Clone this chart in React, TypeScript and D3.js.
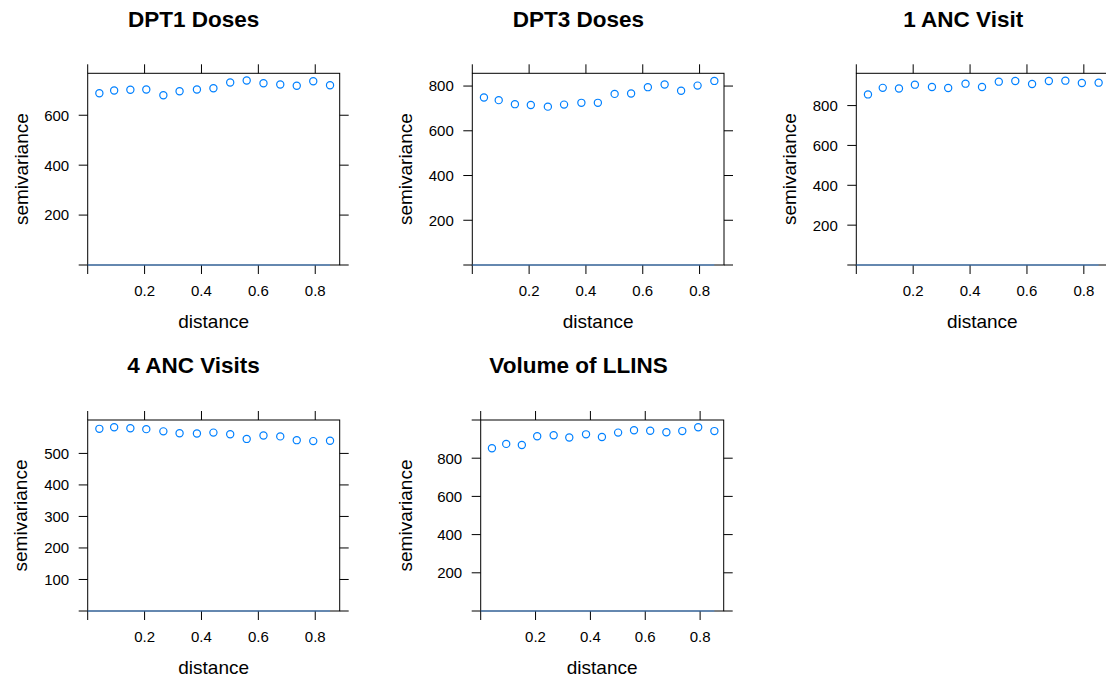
import React from "react";
import * as d3 from "d3";

const distances = [0.041, 0.093, 0.15, 0.206, 0.266, 0.323, 0.384, 0.442, 0.501, 0.559, 0.618, 0.677, 0.735, 0.793, 0.852];
const dpt1 = [688, 699, 702, 703, 680, 696, 703, 708, 731, 739, 728, 723, 718, 736, 720];
const dpt3 = [749, 737, 719, 715, 708, 717, 725, 725, 765, 767, 795, 807, 779, 802, 823];
const anc1 = [856, 889, 886, 905, 893, 888, 910, 893, 920, 923, 908, 923, 925, 913, 915];
const anc4 = [578, 583, 580, 577, 570, 564, 563, 566, 561, 546, 557, 554, 542, 539, 540];
const llins = [852, 875, 869, 915, 920, 908, 925, 911, 934, 946, 944, 936, 942, 962, 942];

const titles = ["DPT1 Doses", "DPT3 Doses", "1 ANC Visit", "4 ANC Visits", "Volume of LLINS"];
const seriesList = [dpt1, dpt3, anc1, anc4, llins];
const yMaxes = [768, 857, 962, 606, 1000];
const yTickSets = [
  [0, 200, 400, 600],
  [0, 200, 400, 600, 800],
  [0, 200, 400, 600, 800],
  [0, 100, 200, 300, 400, 500],
  [0, 200, 400, 600, 800],
];
const xTicks = [0, 0.2, 0.4, 0.6, 0.8];
const xMax = 0.886;
const modelLevel = 0;

// layout (pixel geometry of each panel frame)
const layouts = [
  { L: 87.7, R: 339.7, T: 73.3, B: 265, tx: 193.7, ty: 26.7, ylx: 28.3 },
  { L: 472.3, R: 724, T: 73.3, B: 265, tx: 578.3, ty: 26.7, ylx: 411.7 },
  { L: 856.3, R: 1108.3, T: 73.3, B: 265, tx: 963.2, ty: 26.7, ylx: 796 },
  { L: 87.7, R: 339.7, T: 420, B: 611, tx: 193.5, ty: 372.7, ylx: 27 },
  { L: 480.7, R: 723.7, T: 420, B: 611, tx: 578.5, ty: 372.7, ylx: 411.7 },
];

const FONT = "'Liberation Sans', Arial, Helvetica, sans-serif";
const TICK = 9;
const PTCOL = "#0080ff";

function Panel({ idx }: { idx: number }) {
  const lay = layouts[idx];
  const vals = seriesList[idx];
  const x = d3.scaleLinear().domain([0, xMax]).range([lay.L, lay.R]);
  const y = d3.scaleLinear().domain([0, yMaxes[idx]]).range([lay.B, lay.T]);
  const yt = yTickSets[idx];
  const line = d3.line<number>().x((d) => x(d)).y(() => y(modelLevel));
  const maxD = d3.max(distances) as number;
  return (
    <g>
      <text x={lay.tx} y={lay.ty} textAnchor="middle" fontFamily={FONT} fontWeight="bold" fontSize={22.5} fill="#000">
        {titles[idx]}
      </text>
      <rect x={lay.L} y={lay.T} width={lay.R - lay.L} height={lay.B - lay.T} fill="none" stroke="#000" strokeWidth={1} />
      {xTicks.map((t) => (
        <g key={"x" + t}>
          <line x1={x(t)} x2={x(t)} y1={lay.B} y2={lay.B + TICK} stroke="#000" />
          <line x1={x(t)} x2={x(t)} y1={lay.T} y2={lay.T - TICK} stroke="#000" />
          {t !== 0 && (
            <text x={x(t)} y={lay.B + 31} textAnchor="middle" fontFamily={FONT} fontSize={15} fill="#000">
              {d3.format(".1f")(t)}
            </text>
          )}
        </g>
      ))}
      {yt.map((t) => (
        <g key={"y" + t}>
          <line x1={lay.L} x2={lay.L - TICK} y1={y(t)} y2={y(t)} stroke="#000" />
          <line x1={lay.R} x2={lay.R + TICK} y1={y(t)} y2={y(t)} stroke="#000" />
          {t !== 0 && (
            <text x={lay.L - 18.5} y={y(t)} dy="0.36em" textAnchor="end" fontFamily={FONT} fontSize={15} fill="#000">
              {t}
            </text>
          )}
        </g>
      ))}
      {idx === 4 && <line x1={lay.L} x2={lay.L - TICK} y1={y(1000)} y2={y(1000)} stroke="#000" />}
      <path d={line([0, maxD]) || ""} stroke="#4a90e0" strokeWidth={1} fill="none" />
      {vals.map((v, i) => (
        <circle key={i} cx={x(distances[i])} cy={y(v)} r={3.6} fill="none" stroke={PTCOL} strokeWidth={1.2} />
      ))}
      <text x={(lay.L + lay.R) / 2} y={lay.B + 63} textAnchor="middle" fontFamily={FONT} fontSize={19} fill="#000">
        distance
      </text>
      <text
        transform={`translate(${lay.ylx},${(lay.T + lay.B) / 2}) rotate(-90)`}
        textAnchor="middle"
        fontFamily={FONT}
        fontSize={19}
        fill="#000"
      >
        semivariance
      </text>
    </g>
  );
}

export default function App() {
  return (
    <svg
      width={1106}
      height={679}
      style={{ position: "absolute", left: 0, top: 0, background: "#fff" }}
      xmlns="http://www.w3.org/2000/svg"
    >
      <rect x={0} y={0} width={1106} height={679} fill="#fff" />
      {titles.map((_, i) => (
        <Panel key={i} idx={i} />
      ))}
    </svg>
  );
}
